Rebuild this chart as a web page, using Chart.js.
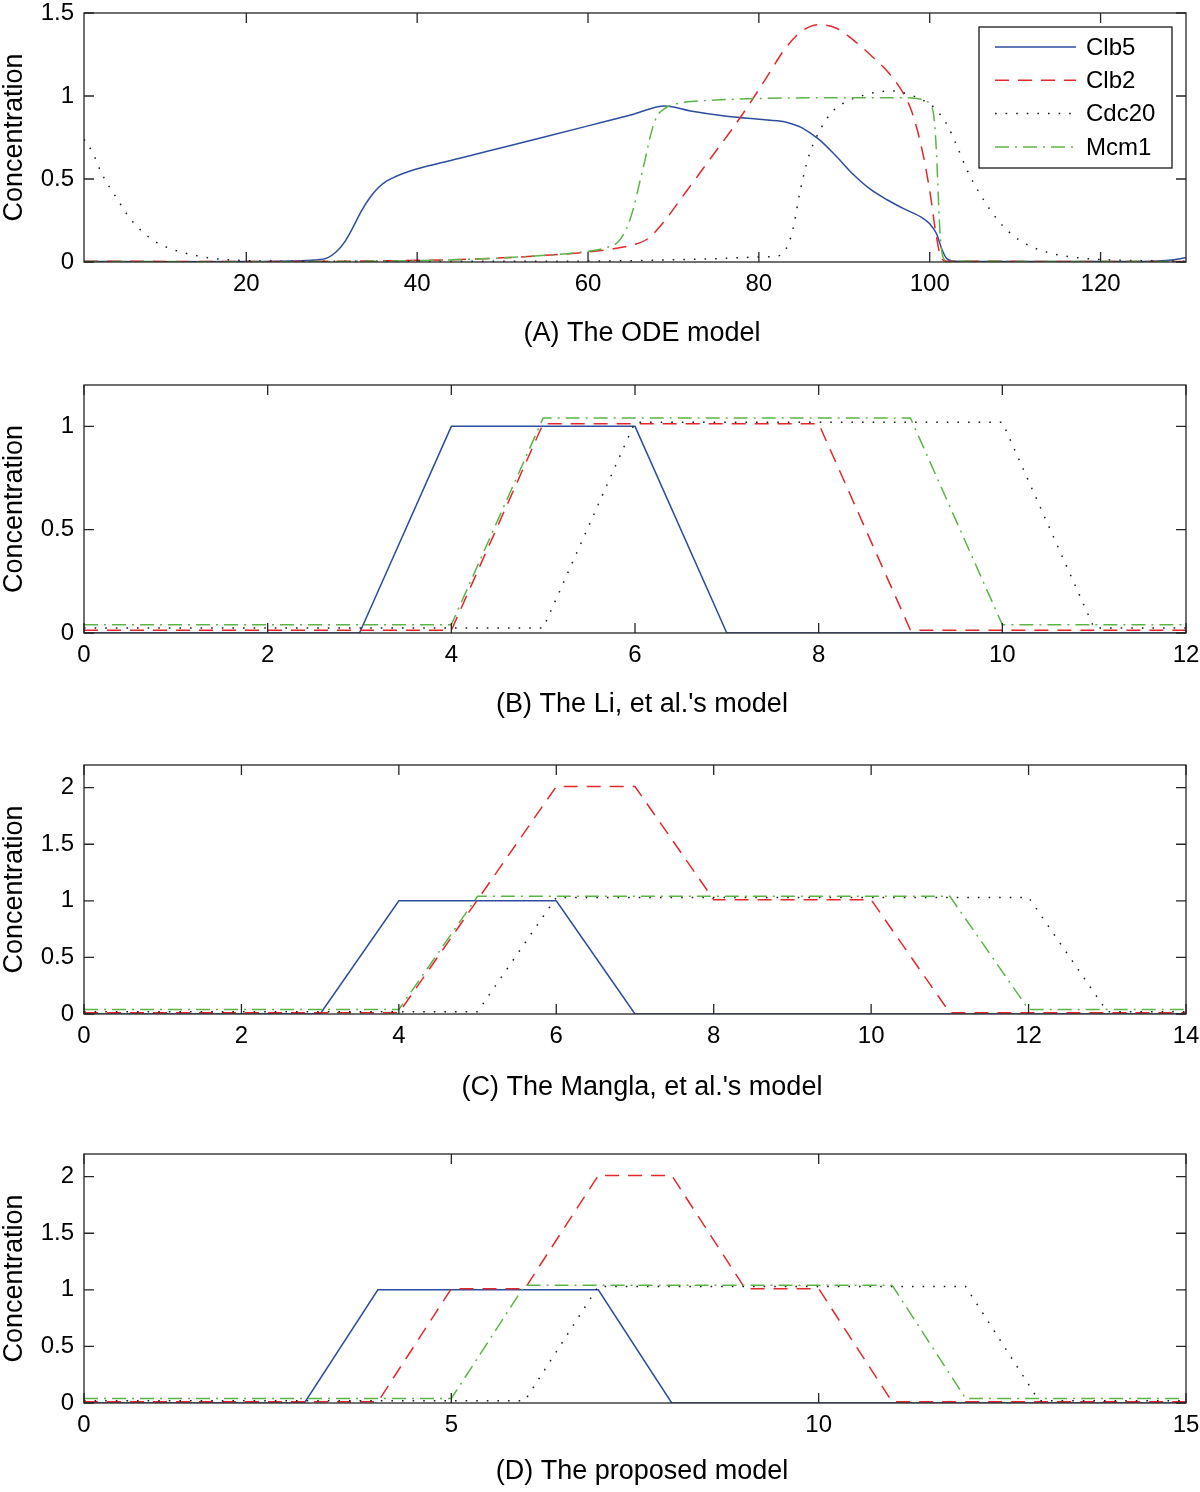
<!DOCTYPE html>
<html><head><meta charset="utf-8">
<script src="https://cdn.jsdelivr.net/npm/chart.js@4.4.0/dist/chart.umd.min.js"></script>
<style>
html,body{margin:0;padding:0;background:#fff;}
#wrap{position:relative;width:1200px;height:1492px;overflow:hidden;background:#fff;}
canvas{position:absolute;left:0;}
</style></head><body><div id="wrap">
<canvas id="cA" width="1200" height="348" style="top:0px"></canvas>
<canvas id="cB" width="1200" height="359" style="top:360px"></canvas>
<canvas id="cC" width="1200" height="362" style="top:740px"></canvas>
<canvas id="cD" width="1200" height="357" style="top:1129px"></canvas>
</div>
<script>
// ---------- DATA ----------
const seriesNames = ['Clb5', 'Clb2', 'Cdc20', 'Mcm1'];

// (A) ODE model: [time, concentration]
const odeClb5 = [[1,0.003],[10,0.002],[20,0.003],[25,0.006],[28,0.012],[29.5,0.025],[30.5,0.06],[31.5,0.12],[32.5,0.21],[33.5,0.31],[34.5,0.39],[35.5,0.45],[36.5,0.49],[37.5,0.515],[39,0.545],[41,0.575],[45,0.625],[50,0.69],[55,0.755],[60,0.82],[65,0.885],[69,0.94],[72,0.91],[76,0.88],[80,0.86],[83,0.845],[84,0.83],[85,0.81],[87,0.74],[89,0.64],[91,0.53],[93,0.44],[95,0.375],[97,0.32],[99,0.27],[100,0.23],[100.8,0.17],[101.4,0.08],[102,0.02],[103,0.005],[110,0.003],[120,0.003],[126,0.005],[128,0.01],[130,0.025]];
const odeClb2 = [[1,0.005],[20,0.003],[30,0.004],[40,0.01],[45,0.015],[50,0.025],[55,0.04],[60,0.06],[63,0.08],[65,0.1],[67,0.14],[69,0.25],[71,0.39],[73,0.53],[75,0.67],[77,0.81],[79,0.96],[81,1.12],[83,1.28],[85,1.39],[87,1.43],[89,1.41],[91,1.34],[93,1.25],[95,1.15],[96.5,1.05],[97.8,0.92],[99,0.7],[100,0.43],[100.7,0.18],[101.3,0.03],[102,0.005],[130,0.003]];
const odeCdc20 = [[1,0.74],[2,0.66],[3,0.54],[4,0.45],[5,0.37],[6,0.29],[7,0.225],[8,0.175],[9,0.135],[10,0.105],[12,0.065],[14,0.04],[16,0.022],[18,0.013],[20,0.008],[30,0.004],[50,0.004],[65,0.008],[75,0.02],[80,0.03],[82.5,0.04],[83.2,0.08],[84,0.2],[84.8,0.42],[85.8,0.63],[87,0.78],[88.5,0.9],[90,0.96],[92,1.0],[94,1.025],[96,1.03],[97.5,1.01],[99,0.98],[100.5,0.93],[102,0.83],[103,0.72],[104.5,0.54],[106,0.4],[108,0.25],[110,0.15],[112,0.09],[114,0.055],[116,0.035],[118,0.022],[120,0.015],[125,0.008],[130,0.005]];
const odeMcm1 = [[1,0.003],[20,0.002],[30,0.003],[40,0.008],[45,0.015],[50,0.025],[55,0.04],[60,0.065],[62,0.085],[63.5,0.12],[64.5,0.2],[65.3,0.32],[66,0.47],[66.7,0.62],[67.3,0.76],[68,0.87],[69,0.925],[70.5,0.955],[73,0.97],[77,0.98],[80,0.985],[90,0.99],[97,0.99],[99,0.98],[100,0.95],[100.5,0.87],[100.8,0.65],[101,0.4],[101.2,0.18],[101.5,0.04],[102,0.005],[130,0.003]];

// (B) Li, et al.'s model
const liClb5  = [[0,0],[3,0],[4,1],[6,1],[7,0],[12,0]];
const liClb2  = [[0,0.013],[4,0.013],[5,1.013],[8,1.013],[9,0.013],[12,0.013]];
const liCdc20 = [[0,0.024],[5,0.024],[6,1.02],[10,1.02],[11,0.024],[12,0.024]];
const liMcm1  = [[0,0.04],[4,0.04],[5,1.04],[9,1.04],[10,0.04],[12,0.04]];

// (C) Mangla, et al.'s model
const mgClb5  = [[0,0],[3,0],[4,1],[6,1],[7,0],[14,0]];
const mgClb2  = [[0,0.01],[4,0.01],[6,2.01],[7,2.01],[8,1.01],[10,1.01],[11,0.01],[14,0.01]];
const mgCdc20 = [[0,0.02],[5,0.02],[6,1.03],[12,1.03],[13,0.02],[14,0.02]];
const mgMcm1  = [[0,0.04],[4,0.04],[5,1.04],[11,1.04],[12,0.04],[14,0.04]];

// (D) Proposed model
const prClb5  = [[0,0],[3,0],[4,1],[7,1],[8,0],[15,0]];
const prClb2  = [[0,0.01],[4,0.01],[5,1.01],[6,1.01],[7,2.01],[8,2.01],[9,1.01],[10,1.01],[11,0.01],[15,0.01]];
const prCdc20 = [[0,0.02],[6,0.02],[7,1.03],[12,1.03],[13,0.02],[15,0.02]];
const prMcm1  = [[0,0.04],[5,0.04],[6,1.04],[11,1.04],[12,0.04],[15,0.04]];

// ticks
const xTicksA = [20,40,60,80,100,120];  const yTicksA = [0,0.5,1,1.5];
const xTicksB = [0,2,4,6,8,10,12];      const yTicksB = [0,0.5,1];
const xTicksC = [0,2,4,6,8,10,12,14];   const yTicksC = [0,0.5,1,1.5,2];
const xTicksD = [0,5,10,15];            const yTicksD = [0,0.5,1,1.5,2];

const captions = ['(A) The ODE model', "(B) The Li, et al.'s model", "(C) The Mangla, et al.'s model", '(D) The proposed model'];
const yLabel = 'Concentration';

// ---------- STYLE ----------
const FONT = '"Liberation Sans", Arial, Helvetica, sans-serif';
const styles = [
  {color:'#2e4d9e', dash:[], order:4},
  {color:'#e3282c', dash:[14,9], order:3},
  {color:'#1e1e1e', dash:[1.6,9], order:2},
  {color:'#5db446', dash:[14,6,2,6], order:1}
];

const framePlugin = {
  id: 'matlabFrame',
  afterDatasetsDraw(chart, args, opts) {
    const {ctx, chartArea} = chart;
    const {left, right, top, bottom} = chartArea;
    const xs = chart.scales.x, ys = chart.scales.y;
    ctx.save();
    ctx.setLineDash([]);
    ctx.strokeStyle = '#262626';
    ctx.lineWidth = 1.3;
    ctx.beginPath();
    xs.ticks.forEach(t => {
      const px = xs.getPixelForValue(t.value);
      ctx.moveTo(px, bottom); ctx.lineTo(px, bottom - 10);
      ctx.moveTo(px, top); ctx.lineTo(px, top + 10);
    });
    ys.ticks.forEach(t => {
      const py = ys.getPixelForValue(t.value);
      ctx.moveTo(left, py); ctx.lineTo(left + 10, py);
      ctx.moveTo(right, py); ctx.lineTo(right - 10, py);
    });
    ctx.stroke();
    ctx.strokeRect(left, top, right - left, bottom - top);
    if (opts.legend) {
      const bx = right - 207, by = top + 14, bw = 193, bh = 141;
      ctx.fillStyle = '#fff';
      ctx.fillRect(bx, by, bw, bh);
      ctx.strokeStyle = '#1a1a1a';
      ctx.lineWidth = 1.3;
      ctx.strokeRect(bx, by, bw, bh);
      ctx.font = '24px ' + FONT;
      ctx.textBaseline = 'middle';
      ctx.textAlign = 'left';
      chart.data.datasets.forEach((ds, i) => {
        const ry = by + 20 + i * 33.3;
        ctx.strokeStyle = ds.borderColor;
        ctx.lineWidth = ds.borderWidth;
        ctx.setLineDash(ds.borderDash);
        ctx.beginPath();
        ctx.moveTo(bx + 16, ry); ctx.lineTo(bx + 97, ry);
        ctx.stroke();
        ctx.setLineDash([]);
        ctx.fillStyle = '#000';
        ctx.fillText(ds.label, bx + 107, ry + 1);
      });
    }
    // panel caption (below x tick labels)
    ctx.font = '27px ' + FONT;
    ctx.fillStyle = '#000';
    ctx.textAlign = 'center';
    ctx.textBaseline = 'middle';
    ctx.fillText(opts.caption, (left + right) / 2 + 7, chart.height - 14);
    ctx.restore();
  }
};

function makePanel(id, p) {
  const datasets = p.series.map((arr, i) => ({
    label: seriesNames[i],
    data: arr.map(([x, y]) => ({x, y})),
    borderColor: styles[i].color,
    borderDash: styles[i].dash,
    borderWidth: 1.5,
    borderCapStyle: 'butt',
    pointRadius: 0,
    fill: false,
    order: styles[i].order,
    tension: 0,
    cubicInterpolationMode: p.smooth ? 'monotone' : 'default'
  }));
  return new Chart(document.getElementById(id), {
    type: 'line',
    data: {datasets},
    plugins: [framePlugin],
    options: {
      responsive: false,
      animation: false,
      events: [],
      layout: {padding: {top: p.padTop, right: 14, left: 0, bottom: 0}},
      plugins: {legend: {display: false}, tooltip: {enabled: false}, matlabFrame: {legend: !!p.legend, caption: p.caption}},
      scales: {
        x: {
          type: 'linear', min: p.xMin, max: p.xMax,
          afterBuildTicks: s => { s.ticks = p.xTicks.map(v => ({value: v})); },
          afterFit: s => { s.height = p.xHeight; s.paddingLeft = 0; s.paddingRight = 0; s.paddingTop = 0; s.paddingBottom = 0; },
          grid: {display: false, drawTicks: false},
          border: {display: false},
          ticks: {padding: 10, color: '#000', font: {family: FONT, size: 24, lineHeight: 1}, callback: v => String(v), maxRotation: 0, autoSkip: false},
          title: {display: false}
        },
        y: {
          type: 'linear', min: p.yMin, max: p.yMax,
          afterBuildTicks: s => { s.ticks = p.yTicks.map(v => ({value: v})); },
          afterFit: s => { s.width = 84; s.paddingLeft = 0; s.paddingRight = 0; s.paddingTop = 0; s.paddingBottom = 0; },
          grid: {display: false, drawTicks: false},
          border: {display: false},
          ticks: {padding: 10, color: '#000', font: {family: FONT, size: 24, lineHeight: 1}, callback: v => String(v), autoSkip: false},
          title: {display: true, text: yLabel, color: '#000', font: {family: FONT, size: 27, lineHeight: 1}, padding: {top: 1, bottom: 0}}
        }
      }
    }
  });
}

makePanel('cA', {series:[odeClb5, odeClb2, odeCdc20, odeMcm1], smooth:true, xMin:1, xMax:130, yMin:0, yMax:1.5, xTicks:xTicksA, yTicks:yTicksA, padTop:13, xHeight:348-262, caption:captions[0], legend:true});
makePanel('cB', {series:[liClb5, liClb2, liCdc20, liMcm1], smooth:false, xMin:0, xMax:12, yMin:0, yMax:1.2, xTicks:xTicksB, yTicks:yTicksB, padTop:25, xHeight:359-273, caption:captions[1]});
makePanel('cC', {series:[mgClb5, mgClb2, mgCdc20, mgMcm1], smooth:false, xMin:0, xMax:14, yMin:0, yMax:2.2, xTicks:xTicksC, yTicks:yTicksC, padTop:25, xHeight:362-274, caption:captions[2]});
makePanel('cD', {series:[prClb5, prClb2, prCdc20, prMcm1], smooth:false, xMin:0, xMax:15, yMin:0, yMax:2.2, xTicks:xTicksD, yTicks:yTicksD, padTop:25, xHeight:357-274, caption:captions[3]});
</script>
</body></html>
